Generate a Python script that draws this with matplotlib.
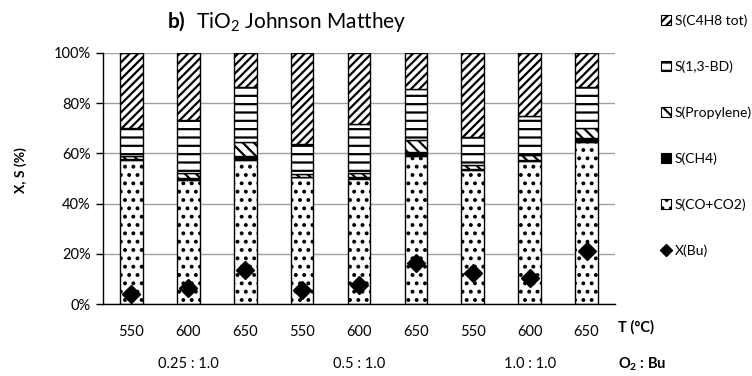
import matplotlib
matplotlib.use("Agg")
import matplotlib.pyplot as plt
import numpy as np
from matplotlib.patches import Patch
from matplotlib.lines import Line2D
from matplotlib.transforms import blended_transform_factory

plt.rcParams['font.family'] = ['Lato', 'DejaVu Sans']
plt.rcParams['mathtext.fontset'] = 'custom'
plt.rcParams['mathtext.rm'] = 'Lato'
plt.rcParams['mathtext.bf'] = 'Lato:bold'
plt.rcParams['hatch.linewidth'] = 1.6

# Data: temperature (°C) and O2 : butane feed ratio for each run
temps = ["550", "600", "650", "550", "600", "650", "550", "600", "650"]
ratios = ["0.25 : 1.0", "0.5 : 1.0", "1.0 : 1.0"]

# Selectivities (%) stacked from bottom to top
s_cox = [57.3, 49.6, 57.5, 50.4, 50.0, 58.9, 53.3, 56.9, 64.6]
s_ch4 = [0.4, 0.5, 1.6, 0.3, 0.4, 1.6, 0.3, 0.4, 1.5]
s_propylene = [1.2, 2.2, 5.5, 1.0, 1.9, 5.0, 1.7, 2.0, 4.2]
s_bd = [11.4, 21.2, 21.9, 12.2, 19.6, 20.3, 11.3, 15.5, 16.2]
s_c4h8 = [29.7, 26.5, 13.5, 36.1, 28.1, 14.2, 33.4, 25.2, 13.5]

# Butane conversion (%)
x_bu = [4.0, 6.5, 13.5, 5.6, 7.6, 16.2, 12.2, 10.5, 21.2]

series = [
    ("S(CO+CO2)", s_cox, "white", ".."),
    ("S(CH4)", s_ch4, "black", None),
    ("S(Propylene)", s_propylene, "white", "\\\\\\"),
    ("S(1,3-BD)", s_bd, "white", "--"),
    ("S(C4H8 tot)", s_c4h8, "white", "////"),
]

fig = plt.figure(figsize=(7.52, 3.76), dpi=100)
ax = fig.add_axes([103 / 752, 1 - 304 / 376, 512 / 752, 251 / 376])

x = np.arange(len(temps))
bottom = np.zeros(len(temps))
handles = {}
for name, vals, fc, hatch in series:
    vals = np.array(vals)
    ax.bar(x, vals, width=0.4, bottom=bottom, color=fc, edgecolor="black",
           linewidth=1.0, hatch=hatch, zorder=2)
    handles[name] = Patch(facecolor=fc, edgecolor="black", hatch=hatch, linewidth=0.8)
    bottom += vals

ax.plot(x, x_bu, linestyle="none", marker="D", markersize=9.5,
        color="black", zorder=3)

ax.set_xlim(-0.5, len(temps) - 0.5)
ax.set_ylim(0, 100)
ax.set_yticks(np.arange(0, 101, 20))
ax.set_yticklabels([f"{v}%" for v in range(0, 101, 20)], fontsize=10.5)
ax.yaxis.grid(True, color="#a0a0a0", linewidth=1.0, zorder=0)
ax.set_axisbelow(True)
ax.set_xticks(x)
ax.set_xticklabels(temps, fontsize=10.5)
ax.tick_params(axis="x", length=0, pad=15)
ax.tick_params(axis="y", length=5, width=1, direction="out", pad=4, color="black")
for s in ("top", "right"):
    ax.spines[s].set_visible(False)
for s in ("left", "bottom"):
    ax.spines[s].set_color("black")
    ax.spines[s].set_linewidth(1.0)

trans = blended_transform_factory(ax.transData, ax.transAxes)
for i, r in enumerate(ratios):
    ax.text(3 * i + 1, -0.24, r, transform=trans, ha="center", va="center",
            fontsize=10.5)

fig.text(618 / 752, 1 - 327 / 376, "T (°C)", fontsize=10.5, fontweight="bold",
         ha="left", va="center")
fig.text(618 / 752, 1 - 364 / 376, r"O$_\mathbf{2}$ : Bu", fontsize=10.5,
         fontweight="bold", ha="left", va="center")

fig.text(21 / 752, 1 - 170 / 376, "X, S (%)", fontsize=10, fontweight="bold",
         rotation=90, ha="center", va="center")

fig.text(168 / 752, 1 - 22 / 376, "b)", fontsize=15, fontweight="bold",
         ha="left", va="center")
fig.text(196 / 752, 1 - 22 / 376, r"TiO$_2$ Johnson Matthey", fontsize=15,
         ha="left", va="center")

legend_order = ["S(C4H8 tot)", "S(1,3-BD)", "S(Propylene)", "S(CH4)", "S(CO+CO2)"]
leg_handles = [handles[n] for n in legend_order]
leg_handles.append(Line2D([], [], linestyle="none", marker="D", markersize=6,
                          color="black"))
leg_labels = legend_order + ["X(Bu)"]
fig.legend(leg_handles, leg_labels, loc="upper left",
           bbox_to_anchor=(661 / 752, 1 - 14 / 376), frameon=False, fontsize=10,
           handlelength=0.75, handleheight=0.75, handletextpad=0.25,
           labelspacing=2.42, borderpad=0, borderaxespad=0)

fig.savefig("out.png", dpi=100)
